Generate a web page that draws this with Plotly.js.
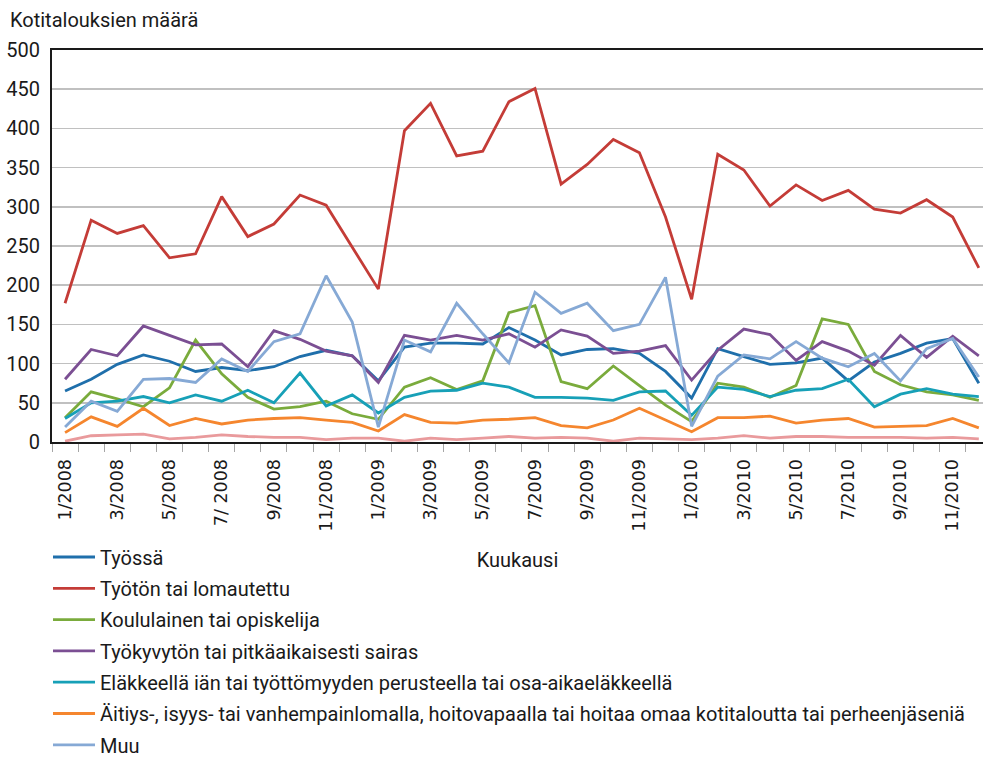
<!DOCTYPE html>
<html>
<head>
<meta charset="utf-8">
<script src="https://cdn.plot.ly/plotly-3.0.1.min.js"></script>
<style>html,body{margin:0;padding:0;background:#fff;}#chart{width:983px;height:757px;}</style>
</head>
<body>
<div id="chart"></div>
<script>
const months = [
  "1/2008","2/2008","3/2008","4/2008","5/2008","6/2008","7/ 2008","8/2008","9/2008","10/2008","11/2008","12/2008",
  "1/2009","2/2009","3/2009","4/2009","5/2009","6/2009","7/2009","8/2009","9/2009","10/2009","11/2009","12/2009",
  "1/2010","2/2010","3/2010","4/2010","5/2010","6/2010","7/2010","8/2010","9/2010","10/2010","11/2010","12/2010"
];
const tyossa = [65,80,99,111,103,90,95,91,96,109,117,110, 78,121,126,126,125,146,130,111,118,119,113,90, 56,119,109,99,101,107,78,102,113,126,132,75];
const tyoton = [177,283,266,276,235,240,313,262,278,315,302,249, 195,397,432,365,371,434,451,329,354,386,369,287, 182,367,347,301,328,308,321,297,292,309,287,222];
const koululainen = [31,64,55,45,69,130,87,57,42,45,52,36, 29,70,82,67,78,165,174,77,68,97,72,47, 26,75,70,57,72,157,150,90,73,64,60,53];
const tyokyvyton = [80,118,110,148,136,124,125,96,142,131,116,110, 76,136,130,136,130,138,121,143,135,113,116,123, 79,117,144,137,104,128,116,98,136,108,135,110];
const elakkeella = [30,50,52,58,50,60,52,66,50,88,46,60, 37,57,65,66,75,70,57,57,56,53,64,65, 34,70,67,58,66,68,80,45,61,68,61,58];
const aitiys = [12,32,20,43,21,30,23,28,30,31,28,25, 14,35,25,24,28,29,31,21,18,28,43,28, 13,31,31,33,24,28,30,19,20,21,30,18];
const muu = [19,52,39,80,81,76,106,90,128,138,212,153, 19,130,115,177,138,101,191,164,177,142,150,210, 20,84,111,106,128,107,96,113,78,119,132,83];
const muuNimeamaton = [1,8,9,10,4,6,9,7,6,6,3,5, 5,1,5,3,5,7,5,6,5,1,5,4, 3,5,8,5,7,7,6,6,6,5,6,4];

const seriesNames = [
  "Työssä",
  "Työtön tai lomautettu",
  "Koululainen tai opiskelija",
  "Työkyvytön tai pitkäaikaisesti sairas",
  "Eläkkeellä iän tai työttömyyden perusteella tai osa-aikaeläkkeellä",
  "Äitiys-, isyys- tai vanhempainlomalla, hoitovapaalla tai hoitaa omaa kotitaloutta tai perheenjäseniä",
  "Muu"
];
const seriesValues = [tyossa, tyoton, koululainen, tyokyvyton, elakkeella, aitiys, muu];
const seriesColors = ["#1f6fab","#c43c37","#7aab3c","#7b4f93","#17a0b7","#f5862e","#86a9d5"];

const xIdx = months.map((m, i) => i);
const FONT = "Roboto, 'Open Sans', sans-serif";

const traces = [];
traces.push({
  x: xIdx, y: muuNimeamaton, type: "scatter", mode: "lines",
  line: {color: "#e99a9c", width: 2.8}, showlegend: false, hoverinfo: "skip"
});
seriesNames.forEach((name, i) => {
  traces.push({
    x: xIdx, y: seriesValues[i], type: "scatter", mode: "lines", name: name,
    legendgroup: "g" + i,
    line: {color: seriesColors[i], width: 2.8}
  });
});

const evenIdx = xIdx.filter(i => i % 2 === 0);

const layout = {
  width: 983, height: 757,
  paper_bgcolor: "#ffffff", plot_bgcolor: "#ffffff",
  margin: {l: 52, r: 0, t: 50, b: 315, pad: 0, autoexpand: false},
  font: {family: FONT, color: "#1a1a1a", size: 20},
  title: {
    text: "Kotitalouksien määrä",
    x: 10 / 983, xref: "container", xanchor: "left",
    y: 1 - 20 / 757, yref: "container", yanchor: "middle",
    font: {family: FONT, size: 20, color: "#1a1a1a"}
  },
  xaxis: {
    range: [-0.5, 35.16],
    tickmode: "array",
    tickvals: evenIdx,
    ticktext: evenIdx.map(i => months[i]),
    tickangle: -90,
    tickfont: {family: "'DejaVu Sans', sans-serif", size: 17.5, color: "#1a1a1a"},
    ticks: "outside", ticklen: 8, tickcolor: "rgba(0,0,0,0)", tickwidth: 1,
    minor: {tick0: -0.5, dtick: 1, ticks: "outside", ticklen: 8, tickcolor: "#a6a6a6", tickwidth: 1, showgrid: false},
    showgrid: false, zeroline: false,
    showline: true, linecolor: "#1a1a1a", linewidth: 2, mirror: true,
    title: {text: "Kuukausi", font: {family: FONT, size: 20, color: "#1a1a1a"}, standoff: 22}
  },
  yaxis: {
    range: [0, 500], dtick: 50, tick0: 0,
    showgrid: true, gridcolor: "#c0c0c0", gridwidth: 1.5,
    zeroline: false,
    showline: true, linecolor: "#1a1a1a", linewidth: 2,
    ticks: "", ticklabelstandoff: 6,
    tickfont: {family: FONT, size: 20, color: "#1a1a1a"}
  },
  showlegend: true,
  legend: {
    orientation: "v",
    xref: "container", yref: "container",
    x: 48 / 983, xanchor: "left",
    y: 1 - 537.5 / 757, yanchor: "top",
    font: {family: FONT, size: 20, color: "#1a1a1a"},
    itemwidth: 42, tracegroupgap: 2.3,
    bgcolor: "rgba(0,0,0,0)", borderwidth: 0,
    traceorder: "grouped"
  },
  hovermode: false
};

Plotly.newPlot("chart", traces, layout, {displayModeBar: false, staticPlot: true});
</script>
</body>
</html>
